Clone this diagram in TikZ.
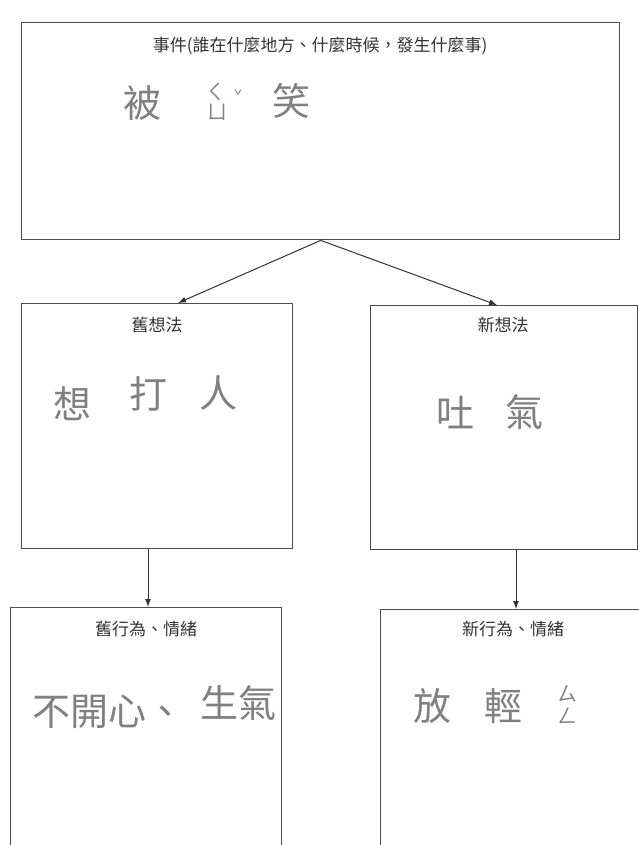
\documentclass[tikz,border=0pt]{standalone}
\usepackage{fontspec}
\newfontfamily\cjk{Noto Sans CJK TC}
\usetikzlibrary{arrows.meta,calc}
\tikzset{
  box/.style={draw=black!70, line width=1.4pt, rectangle, inner sep=0pt, anchor=north west},
  ttl/.style={font=\cjk\fontsize{17}{17}\selectfont, text=black!80, inner sep=0pt},
  hand/.style={font=\cjk\fontsize{38}{38}\selectfont, text=black!50, inner sep=0pt},
  small/.style={font=\cjk\fontsize{20}{20}\selectfont, text=black!50, inner sep=0pt},
  arr/.style={draw=black!80, line width=1pt, -{Latex[length=8pt,width=6pt]}}
}
\begin{document}
\begin{tikzpicture}[x=1pt,y=-1pt]
\useasboundingbox (0,0) rectangle (638,845);
\fill[white] (0,0) rectangle (638,845);
% boxes
\node[box, minimum width=598pt, minimum height=217pt] (ev) at (21,22) {};
\node[box, minimum width=271pt, minimum height=245pt] (ot) at (21,303) {};
\node[box, minimum width=267pt, minimum height=244pt] (nt) at (370,305) {};
\node[box, minimum width=271pt, minimum height=250pt] (ob) at (10,607) {};
\node[box, minimum width=260pt, minimum height=250pt] (nb) at (380,609) {};
% titles
\node[ttl] (evt) at (320,46) {事件(誰在什麼地方、什麼時候，發生什麼事)};
\node[ttl] (ott) at (157,325) {舊想法};
\node[ttl] (ntt) at (503,325) {新想法};
\node[ttl] (obt) at (146,629) {舊行為、情緒};
\node[ttl] (nbt) at (513,629) {新行為、情緒};
% handwriting
\node[hand] (h1) at (142,103) {被};
\node[small] (h2a) at (215,92) {ㄑ};
\node[small] (h2b) at (217,112) {ㄩ};
\node[small, font=\cjk\fontsize{14}{14}\selectfont] (h2c) at (238,96) {ˇ};
\node[hand] (h3) at (291,101) {笑};
\node[hand] (h4) at (72,404) {想};
\node[hand] (h5) at (148,394) {打};
\node[hand] (h6) at (218,393) {人};
\node[hand] (h7) at (455,413) {吐};
\node[hand] (h8) at (524,412) {氣};
\node[hand] (h9) at (108,712) {不開心、};
\node[hand] (h10) at (238,703) {生氣};
\node[hand] (h11) at (432,706) {放};
\node[hand] (h12) at (503,706) {輕};
\node[small] (h13a) at (567,694) {ㄙ};
\node[small] (h13b) at (567,716) {ㄥ};
% connectors
\draw[arr] (ev.south) -- ($(ot.north west)+(157,0)$);
\draw[arr] (ev.south) -- ($(nt.north west)+(127,0)$);
\draw[arr] ($(ot.south west)+(127,0)$) -- ($(ob.north west)+(138,0)$);
\draw[arr] ($(nt.south west)+(146,0)$) -- ($(nb.north west)+(136,0)$);
\end{tikzpicture}
\end{document}
